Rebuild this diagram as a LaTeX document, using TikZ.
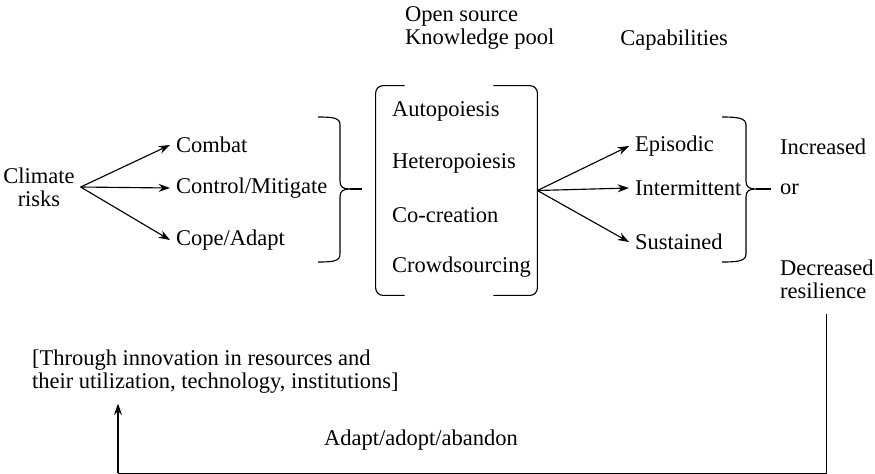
\documentclass[tikz,border=0pt]{standalone}
\usepackage{fontspec}
\setmainfont{Liberation Serif}
\usetikzlibrary{positioning,arrows.meta}
\begin{document}
\begin{tikzpicture}[x=0.529pt, y=-0.529pt, >={Stealth[length=6pt,width=4.2pt]},
        txt/.style={inner sep=3pt, font=\fontsize{11.9}{12.2}\selectfont},
        lbl/.style={txt, anchor=west},
        link/.style={->, line width=0.6pt},
        rim/.style={line width=0.6pt}]
        \useasboundingbox (0,0) rectangle (875,473);

        % left part
        \node[txt, align=center] (risk) at (39,187) {Climate\\risks};
        \node[lbl] (combat) at (170,145) {Combat};
        \node[lbl] (control) at (170,188) {Control/Mitigate};
        \node[lbl] (cope) at (170,240) {Cope/Adapt};

        \draw[link] (risk.east) -- (combat.west);
        \draw[link] (risk.east) -- (control.west);
        \draw[link] (risk.east) -- (cope.west);

        \draw[rim] (318,117) .. controls (334,117) and (340,118) .. (340,125) -- (340,181)
            .. controls (340,187) and (343,189) .. (350,189)
            .. controls (343,189) and (340,191) .. (340,197) -- (340,254)
            .. controls (340,261) and (334,262) .. (318,262);
        \draw[rim] (350,189) -- (362,189);

        % knowledge pool
        \node[lbl, align=left] (pooltitle) at (399,28) {Open source\\Knowledge pool};
        \node[minimum width=85.2pt, minimum height=110.6pt, inner sep=0pt] (pool) at (456.5,190.5) {};
        \draw[rim, rounded corners=4pt] ([xshift=15.3pt]pool.north west) -- (pool.north west)
            -- (pool.south west) -- ([xshift=15.3pt]pool.south west);
        \draw[rim, rounded corners=4pt] ([xshift=-23.3pt]pool.north east) -- (pool.north east)
            -- (pool.south east) -- ([xshift=-23.3pt]pool.south east);

        \node[lbl] (auto) at (386,111) {Autopoiesis};
        \node[lbl] (hetero) at (386,163) {Heteropoiesis};
        \node[lbl] (cocreate) at (386,215) {Co-creation};
        \node[lbl] (crowd) at (386,267) {Crowdsourcing};

        % capabilities
        \node[txt] (capab) at (674,40) {Capabilities};
        \node[lbl] (episodic) at (629,146) {Episodic};
        \node[lbl] (intermit) at (629,188) {Intermittent};
        \node[lbl] (sustain) at (629,242) {Sustained};

        \draw[link] (pool.east) -- (episodic.west);
        \draw[link] (pool.east) -- (intermit.west);
        \draw[link] (pool.east) -- (sustain.west);

        \draw[rim] (722,117) .. controls (738,117) and (746,118) .. (746,125) -- (746,181)
            .. controls (746,187) and (749,189) .. (756,189)
            .. controls (749,189) and (746,191) .. (746,197) -- (746,254)
            .. controls (746,261) and (738,262) .. (722,262);
        \draw[rim] (756,189) -- (771,189);

        \node[lbl] (incr) at (774,147) {Increased};
        \node[lbl] (orr) at (774,189) {or};
        \node[lbl, align=left] (res) at (774,279) {Decreased\\resilience};

        % feedback loop
        \node[lbl, align=left] (through) at (26,372) {[Through innovation in resources and\\their utilization, technology, institutions]};
        \node[txt] (adapt) at (421,440) {Adapt/adopt/abandon};
        \coordinate (loopL) at (118,473.4);

        \draw[rim] ([yshift=-5pt]res.south) -- (res.south |- loopL) -- (loopL);
        \draw[link] (loopL) -- ([yshift=-2pt]loopL |- through.south);
    \end{tikzpicture}
\end{document}
